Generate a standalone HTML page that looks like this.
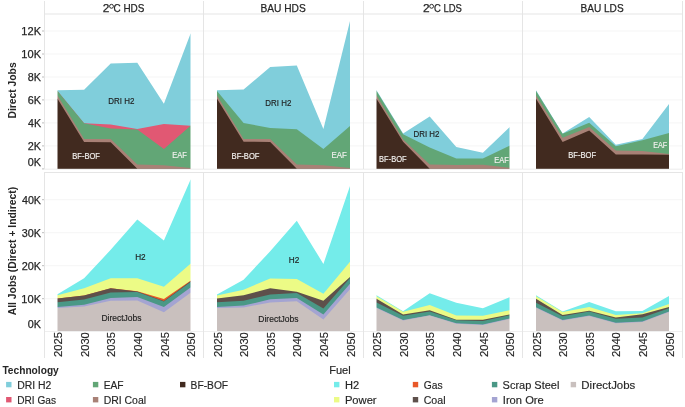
<!DOCTYPE html>
<html><head><meta charset="utf-8"><style>
html,body{margin:0;padding:0;background:#fff;}
body{width:685px;height:407px;overflow:hidden;font-family:"Liberation Sans",sans-serif;}
svg{display:block;will-change:transform;}
</style></head><body>
<svg width="685" height="407" viewBox="0 0 685 407">
<defs><mask id="c00" maskUnits="userSpaceOnUse" x="0" y="0" width="685" height="407"><rect x="57.5" y="15" width="133.00" height="153.80" fill="#fff"/></mask><mask id="c01" maskUnits="userSpaceOnUse" x="0" y="0" width="685" height="407"><rect x="57.5" y="173" width="133.00" height="158.00" fill="#fff"/></mask><mask id="c10" maskUnits="userSpaceOnUse" x="0" y="0" width="685" height="407"><rect x="217.0" y="15" width="133.00" height="153.80" fill="#fff"/></mask><mask id="c11" maskUnits="userSpaceOnUse" x="0" y="0" width="685" height="407"><rect x="217.0" y="173" width="133.00" height="158.00" fill="#fff"/></mask><mask id="c20" maskUnits="userSpaceOnUse" x="0" y="0" width="685" height="407"><rect x="376.5" y="15" width="133.00" height="153.80" fill="#fff"/></mask><mask id="c21" maskUnits="userSpaceOnUse" x="0" y="0" width="685" height="407"><rect x="376.5" y="173" width="133.00" height="158.00" fill="#fff"/></mask><mask id="c30" maskUnits="userSpaceOnUse" x="0" y="0" width="685" height="407"><rect x="536.0" y="15" width="133.00" height="153.80" fill="#fff"/></mask><mask id="c31" maskUnits="userSpaceOnUse" x="0" y="0" width="685" height="407"><rect x="536.0" y="173" width="133.00" height="158.00" fill="#fff"/></mask></defs>
<line x1="44.5" y1="31.0" x2="682" y2="31.0" stroke="#f5f5f5" stroke-width="1"/>
<line x1="44.5" y1="54.0" x2="682" y2="54.0" stroke="#f5f5f5" stroke-width="1"/>
<line x1="44.5" y1="77.0" x2="682" y2="77.0" stroke="#f5f5f5" stroke-width="1"/>
<line x1="44.5" y1="99.9" x2="682" y2="99.9" stroke="#f5f5f5" stroke-width="1"/>
<line x1="44.5" y1="122.9" x2="682" y2="122.9" stroke="#f5f5f5" stroke-width="1"/>
<line x1="44.5" y1="145.9" x2="682" y2="145.9" stroke="#f5f5f5" stroke-width="1"/>
<line x1="44.5" y1="199.7" x2="682" y2="199.7" stroke="#f5f5f5" stroke-width="1"/>
<line x1="44.5" y1="232.7" x2="682" y2="232.7" stroke="#f5f5f5" stroke-width="1"/>
<line x1="44.5" y1="265.7" x2="682" y2="265.7" stroke="#f5f5f5" stroke-width="1"/>
<line x1="44.5" y1="298.7" x2="682" y2="298.7" stroke="#f5f5f5" stroke-width="1"/>
<line x1="44" y1="169.2" x2="683" y2="169.2" stroke="#ececec" stroke-width="1"/>
<g mask="url(#c00)">
<polygon points="55.50,90.20 57.50,90.20 84.10,89.80 110.70,63.60 137.30,62.80 163.90,103.80 190.50,33.80 192.50,33.80 192.50,170.8 55.50,170.8" fill="#80CEDB"/>
<polygon points="55.50,91.00 57.50,91.00 84.10,123.30 110.70,124.50 137.30,128.90 163.90,124.10 190.50,125.80 192.50,125.80 192.50,170.8 55.50,170.8" fill="#E15873"/>
<polygon points="55.50,91.00 57.50,91.00 84.10,123.30 110.70,128.40 137.30,129.40 163.90,149.00 190.50,125.80 192.50,125.80 192.50,170.8 55.50,170.8" fill="#62A676"/>
<polygon points="55.50,95.50 57.50,95.50 84.10,138.90 110.70,139.10 137.30,164.50 163.90,165.30 190.50,168.00 192.50,168.00 192.50,170.8 55.50,170.8" fill="#A88176"/>
<polygon points="55.50,98.80 57.50,98.80 84.10,141.90 110.70,142.20 137.30,168.80 163.90,168.80 190.50,168.80 192.50,168.80 192.50,170.8 55.50,170.8" fill="#412A1F"/>
</g>
<g mask="url(#c01)">
<polygon points="55.50,294.20 57.50,294.20 84.10,278.30 110.70,249.80 137.30,219.50 163.90,240.60 190.50,179.70 192.50,179.70 192.50,333.0 55.50,333.0" fill="#74ECEA"/>
<polygon points="55.50,295.30 57.50,295.30 84.10,288.30 110.70,278.30 137.30,278.30 163.90,286.80 190.50,263.80 192.50,263.80 192.50,333.0 55.50,333.0" fill="#ECFB86"/>
<polygon points="55.50,298.60 57.50,298.60 84.10,295.40 110.70,288.20 137.30,291.30 163.90,299.00 190.50,280.70 192.50,280.70 192.50,333.0 55.50,333.0" fill="#E85828"/>
<polygon points="55.50,298.60 57.50,298.60 84.10,295.40 110.70,288.20 137.30,291.50 163.90,301.00 190.50,281.20 192.50,281.20 192.50,333.0 55.50,333.0" fill="#5E504B"/>
<polygon points="55.50,302.30 57.50,302.30 84.10,299.60 110.70,292.50 137.30,292.00 163.90,301.50 190.50,282.00 192.50,282.00 192.50,333.0 55.50,333.0" fill="#4A9886"/>
<polygon points="55.50,307.00 57.50,307.00 84.10,304.80 110.70,298.10 137.30,296.90 163.90,307.10 190.50,287.40 192.50,287.40 192.50,333.0 55.50,333.0" fill="#A4A4D2"/>
<polygon points="55.50,307.90 57.50,307.90 84.10,306.50 110.70,300.80 137.30,300.60 163.90,312.30 190.50,292.80 192.50,292.80 192.50,333.0 55.50,333.0" fill="#C9C0BE"/>
</g>
<g mask="url(#c10)">
<polygon points="215.00,90.20 217.00,90.20 243.60,89.60 270.20,67.00 296.80,65.50 323.40,128.90 350.00,20.90 352.00,20.90 352.00,170.8 215.00,170.8" fill="#80CEDB"/>
<polygon points="215.00,91.00 217.00,91.00 243.60,123.00 270.20,128.00 296.80,129.30 323.40,148.90 350.00,126.00 352.00,126.00 352.00,170.8 215.00,170.8" fill="#62A676"/>
<polygon points="215.00,95.50 217.00,95.50 243.60,139.00 270.20,139.00 296.80,164.60 323.40,165.30 350.00,168.00 352.00,168.00 352.00,170.8 215.00,170.8" fill="#A88176"/>
<polygon points="215.00,98.80 217.00,98.80 243.60,141.70 270.20,142.00 296.80,168.80 323.40,168.80 350.00,168.80 352.00,168.80 352.00,170.8 215.00,170.8" fill="#412A1F"/>
</g>
<g mask="url(#c11)">
<polygon points="215.00,294.60 217.00,294.60 243.60,279.70 270.20,251.30 296.80,220.80 323.40,263.90 350.00,186.10 352.00,186.10 352.00,333.0 215.00,333.0" fill="#74ECEA"/>
<polygon points="215.00,295.60 217.00,295.60 243.60,289.70 270.20,278.40 296.80,279.00 323.40,293.80 350.00,261.70 352.00,261.70 352.00,333.0 215.00,333.0" fill="#ECFB86"/>
<polygon points="215.00,298.50 217.00,298.50 243.60,295.20 270.20,288.30 296.80,291.70 323.40,300.70 350.00,277.00 352.00,277.00 352.00,333.0 215.00,333.0" fill="#5E504B"/>
<polygon points="215.00,302.20 217.00,302.20 243.60,300.70 270.20,294.40 296.80,292.90 323.40,308.60 350.00,278.00 352.00,278.00 352.00,333.0 215.00,333.0" fill="#4A9886"/>
<polygon points="215.00,306.90 217.00,306.90 243.60,305.60 270.20,299.30 296.80,298.10 323.40,314.50 350.00,283.80 352.00,283.80 352.00,333.0 215.00,333.0" fill="#A4A4D2"/>
<polygon points="215.00,308.10 217.00,308.10 243.60,307.50 270.20,302.40 296.80,301.20 323.40,319.40 350.00,289.30 352.00,289.30 352.00,333.0 215.00,333.0" fill="#C9C0BE"/>
</g>
<g mask="url(#c20)">
<polygon points="374.50,90.20 376.50,90.20 403.10,133.60 429.70,116.60 456.30,147.10 482.90,152.70 509.50,127.20 511.50,127.20 511.50,170.8 374.50,170.8" fill="#80CEDB"/>
<polygon points="374.50,91.00 376.50,91.00 403.10,134.30 429.70,147.60 456.30,158.60 482.90,158.60 509.50,145.80 511.50,145.80 511.50,170.8 374.50,170.8" fill="#62A676"/>
<polygon points="374.50,95.50 376.50,95.50 403.10,139.50 429.70,164.60 456.30,165.00 482.90,164.80 509.50,167.80 511.50,167.80 511.50,170.8 374.50,170.8" fill="#A88176"/>
<polygon points="374.50,98.80 376.50,98.80 403.10,141.70 429.70,168.80 456.30,168.80 482.90,168.80 509.50,168.80 511.50,168.80 511.50,170.8 374.50,170.8" fill="#412A1F"/>
</g>
<g mask="url(#c21)">
<polygon points="374.50,295.20 376.50,295.20 403.10,311.20 429.70,293.20 456.30,302.70 482.90,308.30 509.50,297.30 511.50,297.30 511.50,333.0 374.50,333.0" fill="#74ECEA"/>
<polygon points="374.50,296.20 376.50,296.20 403.10,311.70 429.70,305.00 456.30,315.60 482.90,315.80 509.50,310.30 511.50,310.30 511.50,333.0 374.50,333.0" fill="#ECFB86"/>
<polygon points="374.50,298.80 376.50,298.80 403.10,314.50 429.70,310.20 456.30,319.80 482.90,319.80 509.50,314.60 511.50,314.60 511.50,333.0 374.50,333.0" fill="#5E504B"/>
<polygon points="374.50,302.60 376.50,302.60 403.10,315.80 429.70,311.40 456.30,320.30 482.90,320.90 509.50,315.30 511.50,315.30 511.50,333.0 374.50,333.0" fill="#4A9886"/>
<polygon points="374.50,307.50 376.50,307.50 403.10,320.10 429.70,315.20 456.30,323.30 482.90,324.50 509.50,318.40 511.50,318.40 511.50,333.0 374.50,333.0" fill="#A4A4D2"/>
<polygon points="374.50,308.10 376.50,308.10 403.10,320.50 429.70,315.60 456.30,323.70 482.90,325.00 509.50,318.90 511.50,318.90 511.50,333.0 374.50,333.0" fill="#C9C0BE"/>
</g>
<g mask="url(#c30)">
<polygon points="534.00,90.20 536.00,90.20 562.60,133.60 589.20,117.10 615.80,144.70 642.40,139.00 669.00,103.90 671.00,103.90 671.00,170.8 534.00,170.8" fill="#80CEDB"/>
<polygon points="534.00,91.00 536.00,91.00 562.60,133.80 589.20,122.80 615.80,146.20 642.40,140.30 669.00,132.90 671.00,132.90 671.00,170.8 534.00,170.8" fill="#62A676"/>
<polygon points="534.00,95.50 536.00,95.50 562.60,137.70 589.20,126.90 615.80,150.60 642.40,150.90 669.00,153.90 671.00,153.90 671.00,170.8 534.00,170.8" fill="#A88176"/>
<polygon points="534.00,98.80 536.00,98.80 562.60,141.90 589.20,130.40 615.80,154.60 642.40,154.60 669.00,154.80 671.00,154.80 671.00,170.8 534.00,170.8" fill="#412A1F"/>
</g>
<g mask="url(#c31)">
<polygon points="534.00,295.20 536.00,295.20 562.60,311.50 589.20,302.10 615.80,311.30 642.40,311.00 669.00,296.10 671.00,296.10 671.00,333.0 534.00,333.0" fill="#74ECEA"/>
<polygon points="534.00,296.30 536.00,296.30 562.60,312.10 589.20,307.10 615.80,314.90 642.40,313.20 669.00,304.00 671.00,304.00 671.00,333.0 534.00,333.0" fill="#ECFB86"/>
<polygon points="534.00,298.80 536.00,298.80 562.60,314.90 589.20,310.70 615.80,317.60 642.40,314.30 669.00,306.90 671.00,306.90 671.00,333.0 534.00,333.0" fill="#5E504B"/>
<polygon points="534.00,302.70 536.00,302.70 562.60,316.20 589.20,311.50 615.80,318.70 642.40,317.60 669.00,308.20 671.00,308.20 671.00,333.0 534.00,333.0" fill="#4A9886"/>
<polygon points="534.00,307.20 536.00,307.20 562.60,320.00 589.20,315.60 615.80,322.80 642.40,321.60 669.00,311.60 671.00,311.60 671.00,333.0 534.00,333.0" fill="#A4A4D2"/>
<polygon points="534.00,307.70 536.00,307.70 562.60,320.40 589.20,316.00 615.80,323.20 642.40,322.00 669.00,312.10 671.00,312.10 671.00,333.0 534.00,333.0" fill="#C9C0BE"/>
</g>
<line x1="44" y1="14" x2="683" y2="14" stroke="#e5e5e5" stroke-width="1"/>
<line x1="44" y1="172.5" x2="683" y2="172.5" stroke="#e5e5e5" stroke-width="1"/>
<line x1="44" y1="331.5" x2="683" y2="331.5" stroke="#efefef" stroke-width="1"/>
<line x1="44.5" y1="1" x2="44.5" y2="169" stroke="#e5e5e5" stroke-width="1"/>
<line x1="44.5" y1="172" x2="44.5" y2="358" stroke="#e5e5e5" stroke-width="1"/>
<line x1="203.5" y1="1" x2="203.5" y2="169" stroke="#e5e5e5" stroke-width="1"/>
<line x1="203.5" y1="172" x2="203.5" y2="358" stroke="#e5e5e5" stroke-width="1"/>
<line x1="363.5" y1="1" x2="363.5" y2="169" stroke="#e5e5e5" stroke-width="1"/>
<line x1="363.5" y1="172" x2="363.5" y2="358" stroke="#e5e5e5" stroke-width="1"/>
<line x1="522.5" y1="1" x2="522.5" y2="169" stroke="#e5e5e5" stroke-width="1"/>
<line x1="522.5" y1="172" x2="522.5" y2="358" stroke="#e5e5e5" stroke-width="1"/>
<line x1="682.5" y1="1" x2="682.5" y2="169" stroke="#e5e5e5" stroke-width="1"/>
<line x1="682.5" y1="172" x2="682.5" y2="358" stroke="#e5e5e5" stroke-width="1"/>
<line x1="42" y1="31.0" x2="44" y2="31.0" stroke="#bdbdbd" stroke-width="1"/>
<line x1="42" y1="54.0" x2="44" y2="54.0" stroke="#bdbdbd" stroke-width="1"/>
<line x1="42" y1="77.0" x2="44" y2="77.0" stroke="#bdbdbd" stroke-width="1"/>
<line x1="42" y1="99.9" x2="44" y2="99.9" stroke="#bdbdbd" stroke-width="1"/>
<line x1="42" y1="122.9" x2="44" y2="122.9" stroke="#bdbdbd" stroke-width="1"/>
<line x1="42" y1="145.9" x2="44" y2="145.9" stroke="#bdbdbd" stroke-width="1"/>
<line x1="42" y1="168.9" x2="44" y2="168.9" stroke="#bdbdbd" stroke-width="1"/>
<line x1="42" y1="199.7" x2="44" y2="199.7" stroke="#bdbdbd" stroke-width="1"/>
<line x1="42" y1="232.7" x2="44" y2="232.7" stroke="#bdbdbd" stroke-width="1"/>
<line x1="42" y1="265.7" x2="44" y2="265.7" stroke="#bdbdbd" stroke-width="1"/>
<line x1="42" y1="298.7" x2="44" y2="298.7" stroke="#bdbdbd" stroke-width="1"/>
<text x="21.35" y="34.90" font-size="11" fill="#262626" stroke="#262626" stroke-width="0.25" textLength="19.68" lengthAdjust="spacingAndGlyphs" font-family="Liberation Sans, sans-serif">12K</text>
<text x="21.35" y="57.90" font-size="11" fill="#262626" stroke="#262626" stroke-width="0.25" textLength="19.68" lengthAdjust="spacingAndGlyphs" font-family="Liberation Sans, sans-serif">10K</text>
<text x="27.81" y="80.90" font-size="11" fill="#262626" stroke="#262626" stroke-width="0.25" textLength="13.24" lengthAdjust="spacingAndGlyphs" font-family="Liberation Sans, sans-serif">8K</text>
<text x="27.76" y="103.80" font-size="11" fill="#262626" stroke="#262626" stroke-width="0.25" textLength="13.30" lengthAdjust="spacingAndGlyphs" font-family="Liberation Sans, sans-serif">6K</text>
<text x="28.06" y="126.80" font-size="11" fill="#262626" stroke="#262626" stroke-width="0.25" textLength="12.99" lengthAdjust="spacingAndGlyphs" font-family="Liberation Sans, sans-serif">4K</text>
<text x="27.76" y="149.80" font-size="11" fill="#262626" stroke="#262626" stroke-width="0.25" textLength="13.30" lengthAdjust="spacingAndGlyphs" font-family="Liberation Sans, sans-serif">2K</text>
<text x="27.86" y="165.90" font-size="11" fill="#262626" stroke="#262626" stroke-width="0.25" textLength="13.19" lengthAdjust="spacingAndGlyphs" font-family="Liberation Sans, sans-serif">0K</text>
<text x="21.96" y="203.60" font-size="11" fill="#262626" stroke="#262626" stroke-width="0.25" textLength="19.06" lengthAdjust="spacingAndGlyphs" font-family="Liberation Sans, sans-serif">40K</text>
<text x="21.81" y="236.60" font-size="11" fill="#262626" stroke="#262626" stroke-width="0.25" textLength="19.21" lengthAdjust="spacingAndGlyphs" font-family="Liberation Sans, sans-serif">30K</text>
<text x="21.66" y="269.60" font-size="11" fill="#262626" stroke="#262626" stroke-width="0.25" textLength="19.37" lengthAdjust="spacingAndGlyphs" font-family="Liberation Sans, sans-serif">20K</text>
<text x="21.35" y="302.60" font-size="11" fill="#262626" stroke="#262626" stroke-width="0.25" textLength="19.68" lengthAdjust="spacingAndGlyphs" font-family="Liberation Sans, sans-serif">10K</text>
<text x="27.86" y="328.00" font-size="11" fill="#262626" stroke="#262626" stroke-width="0.25" textLength="13.19" lengthAdjust="spacingAndGlyphs" font-family="Liberation Sans, sans-serif">0K</text>
<text x="260.47" y="11.80" font-size="11" fill="#262626" stroke="#262626" stroke-width="0.25" textLength="45.29" lengthAdjust="spacingAndGlyphs" font-family="Liberation Sans, sans-serif">BAU HDS</text>
<text x="580.47" y="11.80" font-size="11" fill="#262626" stroke="#262626" stroke-width="0.25" textLength="43.16" lengthAdjust="spacingAndGlyphs" font-family="Liberation Sans, sans-serif">BAU LDS</text>
<text x="102.71" y="11.80" font-size="11" fill="#262626" stroke="#262626" stroke-width="0.25" textLength="6.61" lengthAdjust="spacingAndGlyphs" font-family="Liberation Sans, sans-serif">2</text>
<circle cx="111.5" cy="6.3" r="1.95" fill="none" stroke="#262626" stroke-width="0.95"/>
<text x="113.50" y="11.80" font-size="11" fill="#262626" stroke="#262626" stroke-width="0.25" textLength="30.93" lengthAdjust="spacingAndGlyphs" font-family="Liberation Sans, sans-serif">C HDS</text>
<text x="422.91" y="11.80" font-size="11" fill="#262626" stroke="#262626" stroke-width="0.25" textLength="6.61" lengthAdjust="spacingAndGlyphs" font-family="Liberation Sans, sans-serif">2</text>
<circle cx="431.6" cy="6.3" r="1.95" fill="none" stroke="#262626" stroke-width="0.95"/>
<text x="433.93" y="11.80" font-size="11" fill="#262626" stroke="#262626" stroke-width="0.25" textLength="27.90" lengthAdjust="spacingAndGlyphs" font-family="Liberation Sans, sans-serif">C LDS</text>
<text transform="translate(16.10,118.47) rotate(-90)" font-size="10" font-weight="bold" fill="#262626" textLength="56.10" lengthAdjust="spacingAndGlyphs" font-family="Liberation Sans, sans-serif">Direct Jobs</text>
<text transform="translate(16.00,315.26) rotate(-90)" font-size="10" font-weight="bold" fill="#262626" textLength="128.37" lengthAdjust="spacingAndGlyphs" font-family="Liberation Sans, sans-serif">All Jobs (Direct + Indirect)</text>
<text transform="translate(62.10,357.06) rotate(-90)" font-size="11" fill="#262626" stroke="#262626" stroke-width="0.15" textLength="24.94" lengthAdjust="spacingAndGlyphs" font-family="Liberation Sans, sans-serif">2025</text>
<text transform="translate(88.70,357.06) rotate(-90)" font-size="11" fill="#262626" stroke="#262626" stroke-width="0.15" textLength="24.89" lengthAdjust="spacingAndGlyphs" font-family="Liberation Sans, sans-serif">2030</text>
<text transform="translate(115.30,357.06) rotate(-90)" font-size="11" fill="#262626" stroke="#262626" stroke-width="0.15" textLength="24.94" lengthAdjust="spacingAndGlyphs" font-family="Liberation Sans, sans-serif">2035</text>
<text transform="translate(141.90,357.06) rotate(-90)" font-size="11" fill="#262626" stroke="#262626" stroke-width="0.15" textLength="24.89" lengthAdjust="spacingAndGlyphs" font-family="Liberation Sans, sans-serif">2040</text>
<text transform="translate(168.50,357.06) rotate(-90)" font-size="11" fill="#262626" stroke="#262626" stroke-width="0.15" textLength="24.94" lengthAdjust="spacingAndGlyphs" font-family="Liberation Sans, sans-serif">2045</text>
<text transform="translate(195.10,357.06) rotate(-90)" font-size="11" fill="#262626" stroke="#262626" stroke-width="0.15" textLength="24.89" lengthAdjust="spacingAndGlyphs" font-family="Liberation Sans, sans-serif">2050</text>
<text transform="translate(221.60,357.06) rotate(-90)" font-size="11" fill="#262626" stroke="#262626" stroke-width="0.15" textLength="24.94" lengthAdjust="spacingAndGlyphs" font-family="Liberation Sans, sans-serif">2025</text>
<text transform="translate(248.20,357.06) rotate(-90)" font-size="11" fill="#262626" stroke="#262626" stroke-width="0.15" textLength="24.89" lengthAdjust="spacingAndGlyphs" font-family="Liberation Sans, sans-serif">2030</text>
<text transform="translate(274.80,357.06) rotate(-90)" font-size="11" fill="#262626" stroke="#262626" stroke-width="0.15" textLength="24.94" lengthAdjust="spacingAndGlyphs" font-family="Liberation Sans, sans-serif">2035</text>
<text transform="translate(301.40,357.06) rotate(-90)" font-size="11" fill="#262626" stroke="#262626" stroke-width="0.15" textLength="24.89" lengthAdjust="spacingAndGlyphs" font-family="Liberation Sans, sans-serif">2040</text>
<text transform="translate(328.00,357.06) rotate(-90)" font-size="11" fill="#262626" stroke="#262626" stroke-width="0.15" textLength="24.94" lengthAdjust="spacingAndGlyphs" font-family="Liberation Sans, sans-serif">2045</text>
<text transform="translate(354.60,357.06) rotate(-90)" font-size="11" fill="#262626" stroke="#262626" stroke-width="0.15" textLength="24.89" lengthAdjust="spacingAndGlyphs" font-family="Liberation Sans, sans-serif">2050</text>
<text transform="translate(381.10,357.06) rotate(-90)" font-size="11" fill="#262626" stroke="#262626" stroke-width="0.15" textLength="24.94" lengthAdjust="spacingAndGlyphs" font-family="Liberation Sans, sans-serif">2025</text>
<text transform="translate(407.70,357.06) rotate(-90)" font-size="11" fill="#262626" stroke="#262626" stroke-width="0.15" textLength="24.89" lengthAdjust="spacingAndGlyphs" font-family="Liberation Sans, sans-serif">2030</text>
<text transform="translate(434.30,357.06) rotate(-90)" font-size="11" fill="#262626" stroke="#262626" stroke-width="0.15" textLength="24.94" lengthAdjust="spacingAndGlyphs" font-family="Liberation Sans, sans-serif">2035</text>
<text transform="translate(460.90,357.06) rotate(-90)" font-size="11" fill="#262626" stroke="#262626" stroke-width="0.15" textLength="24.89" lengthAdjust="spacingAndGlyphs" font-family="Liberation Sans, sans-serif">2040</text>
<text transform="translate(487.50,357.06) rotate(-90)" font-size="11" fill="#262626" stroke="#262626" stroke-width="0.15" textLength="24.94" lengthAdjust="spacingAndGlyphs" font-family="Liberation Sans, sans-serif">2045</text>
<text transform="translate(514.10,357.06) rotate(-90)" font-size="11" fill="#262626" stroke="#262626" stroke-width="0.15" textLength="24.89" lengthAdjust="spacingAndGlyphs" font-family="Liberation Sans, sans-serif">2050</text>
<text transform="translate(540.60,357.06) rotate(-90)" font-size="11" fill="#262626" stroke="#262626" stroke-width="0.15" textLength="24.94" lengthAdjust="spacingAndGlyphs" font-family="Liberation Sans, sans-serif">2025</text>
<text transform="translate(567.20,357.06) rotate(-90)" font-size="11" fill="#262626" stroke="#262626" stroke-width="0.15" textLength="24.89" lengthAdjust="spacingAndGlyphs" font-family="Liberation Sans, sans-serif">2030</text>
<text transform="translate(593.80,357.06) rotate(-90)" font-size="11" fill="#262626" stroke="#262626" stroke-width="0.15" textLength="24.94" lengthAdjust="spacingAndGlyphs" font-family="Liberation Sans, sans-serif">2035</text>
<text transform="translate(620.40,357.06) rotate(-90)" font-size="11" fill="#262626" stroke="#262626" stroke-width="0.15" textLength="24.89" lengthAdjust="spacingAndGlyphs" font-family="Liberation Sans, sans-serif">2040</text>
<text transform="translate(647.00,357.06) rotate(-90)" font-size="11" fill="#262626" stroke="#262626" stroke-width="0.15" textLength="24.94" lengthAdjust="spacingAndGlyphs" font-family="Liberation Sans, sans-serif">2045</text>
<text transform="translate(673.60,357.06) rotate(-90)" font-size="11" fill="#262626" stroke="#262626" stroke-width="0.15" textLength="24.89" lengthAdjust="spacingAndGlyphs" font-family="Liberation Sans, sans-serif">2050</text>
<text x="108.27" y="103.70" font-size="8.2" fill="#1e1e1e" stroke="#1e1e1e" stroke-width="0.15" textLength="26.05" lengthAdjust="spacingAndGlyphs" font-family="Liberation Sans, sans-serif">DRI H2</text>
<text x="265.37" y="105.90" font-size="8.2" fill="#1e1e1e" stroke="#1e1e1e" stroke-width="0.15" textLength="25.94" lengthAdjust="spacingAndGlyphs" font-family="Liberation Sans, sans-serif">DRI H2</text>
<text x="413.58" y="136.80" font-size="8.2" fill="#1e1e1e" stroke="#1e1e1e" stroke-width="0.15" textLength="25.84" lengthAdjust="spacingAndGlyphs" font-family="Liberation Sans, sans-serif">DRI H2</text>
<text x="72.30" y="158.90" font-size="8.2" fill="#f3f1ef" stroke="#f3f1ef" stroke-width="0.15" textLength="27.69" lengthAdjust="spacingAndGlyphs" font-family="Liberation Sans, sans-serif">BF-BOF</text>
<text x="231.60" y="158.90" font-size="8.2" fill="#f3f1ef" stroke="#f3f1ef" stroke-width="0.15" textLength="27.90" lengthAdjust="spacingAndGlyphs" font-family="Liberation Sans, sans-serif">BF-BOF</text>
<text x="379.11" y="161.90" font-size="8.2" fill="#f3f1ef" stroke="#f3f1ef" stroke-width="0.15" textLength="27.48" lengthAdjust="spacingAndGlyphs" font-family="Liberation Sans, sans-serif">BF-BOF</text>
<text x="568.30" y="158.10" font-size="8.2" fill="#f3f1ef" stroke="#f3f1ef" stroke-width="0.15" textLength="27.90" lengthAdjust="spacingAndGlyphs" font-family="Liberation Sans, sans-serif">BF-BOF</text>
<text x="172.30" y="158.20" font-size="8.2" fill="#f3f1ef" stroke="#f3f1ef" stroke-width="0.15" textLength="14.67" lengthAdjust="spacingAndGlyphs" font-family="Liberation Sans, sans-serif">EAF</text>
<text x="331.58" y="157.80" font-size="8.2" fill="#f3f1ef" stroke="#f3f1ef" stroke-width="0.15" textLength="15.31" lengthAdjust="spacingAndGlyphs" font-family="Liberation Sans, sans-serif">EAF</text>
<text x="494.21" y="162.80" font-size="8.2" fill="#f3f1ef" stroke="#f3f1ef" stroke-width="0.15" textLength="14.57" lengthAdjust="spacingAndGlyphs" font-family="Liberation Sans, sans-serif">EAF</text>
<text x="653.23" y="148.00" font-size="8.2" fill="#f3f1ef" stroke="#f3f1ef" stroke-width="0.15" textLength="14.03" lengthAdjust="spacingAndGlyphs" font-family="Liberation Sans, sans-serif">EAF</text>
<text x="135.15" y="259.80" font-size="8.2" fill="#1e1e1e" stroke="#1e1e1e" stroke-width="0.15" textLength="10.48" lengthAdjust="spacingAndGlyphs" font-family="Liberation Sans, sans-serif">H2</text>
<text x="288.85" y="263.00" font-size="8.2" fill="#1e1e1e" stroke="#1e1e1e" stroke-width="0.15" textLength="10.48" lengthAdjust="spacingAndGlyphs" font-family="Liberation Sans, sans-serif">H2</text>
<text x="101.43" y="320.70" font-size="8.2" fill="#1e1e1e" stroke="#1e1e1e" stroke-width="0.15" textLength="40.06" lengthAdjust="spacingAndGlyphs" font-family="Liberation Sans, sans-serif">DirectJobs</text>
<text x="258.33" y="321.50" font-size="8.2" fill="#1e1e1e" stroke="#1e1e1e" stroke-width="0.15" textLength="40.17" lengthAdjust="spacingAndGlyphs" font-family="Liberation Sans, sans-serif">DirectJobs</text>
<text x="2.40" y="374.20" font-size="10" font-weight="bold" fill="#262626" textLength="56.38" lengthAdjust="spacingAndGlyphs" font-family="Liberation Sans, sans-serif">Technology</text>
<text x="329.22" y="374.30" font-size="10" fill="#262626" stroke="#262626" stroke-width="0.15" textLength="21.51" lengthAdjust="spacingAndGlyphs" font-family="Liberation Sans, sans-serif">Fuel</text>
<rect x="6.1" y="381.9" width="5.4" height="5.4" fill="#80CEDB"/>
<text x="17.17" y="388.70" font-size="10" fill="#262626" stroke="#262626" stroke-width="0.15" textLength="34.19" lengthAdjust="spacingAndGlyphs" font-family="Liberation Sans, sans-serif">DRI H2</text>
<rect x="92.9" y="381.9" width="5.4" height="5.4" fill="#62A676"/>
<text x="103.68" y="388.70" font-size="10" fill="#262626" stroke="#262626" stroke-width="0.15" textLength="19.93" lengthAdjust="spacingAndGlyphs" font-family="Liberation Sans, sans-serif">EAF</text>
<rect x="180" y="381.9" width="5.4" height="5.4" fill="#412A1F"/>
<text x="190.58" y="388.70" font-size="10" fill="#262626" stroke="#262626" stroke-width="0.15" textLength="37.55" lengthAdjust="spacingAndGlyphs" font-family="Liberation Sans, sans-serif">BF-BOF</text>
<rect x="6.1" y="397.0" width="5.4" height="5.4" fill="#E15873"/>
<text x="17.19" y="403.60" font-size="10" fill="#262626" stroke="#262626" stroke-width="0.15" textLength="38.75" lengthAdjust="spacingAndGlyphs" font-family="Liberation Sans, sans-serif">DRI Gas</text>
<rect x="92.9" y="397.0" width="5.4" height="5.4" fill="#A88176"/>
<text x="103.66" y="403.60" font-size="10" fill="#262626" stroke="#262626" stroke-width="0.15" textLength="42.43" lengthAdjust="spacingAndGlyphs" font-family="Liberation Sans, sans-serif">DRI Coal</text>
<rect x="334" y="381.9" width="5.4" height="5.4" fill="#74ECEA"/>
<text x="344.91" y="388.80" font-size="10" fill="#262626" stroke="#262626" stroke-width="0.15" textLength="14.18" lengthAdjust="spacingAndGlyphs" font-family="Liberation Sans, sans-serif">H2</text>
<rect x="412.8" y="381.9" width="5.4" height="5.4" fill="#E85828"/>
<text x="423.69" y="388.80" font-size="10" fill="#262626" stroke="#262626" stroke-width="0.15" textLength="18.86" lengthAdjust="spacingAndGlyphs" font-family="Liberation Sans, sans-serif">Gas</text>
<rect x="491.9" y="381.9" width="5.4" height="5.4" fill="#4A9886"/>
<text x="502.61" y="388.80" font-size="10" fill="#262626" stroke="#262626" stroke-width="0.15" textLength="56.76" lengthAdjust="spacingAndGlyphs" font-family="Liberation Sans, sans-serif">Scrap Steel</text>
<rect x="570.7" y="381.9" width="5.4" height="5.4" fill="#C9C0BE"/>
<text x="581.39" y="388.80" font-size="10" fill="#262626" stroke="#262626" stroke-width="0.15" textLength="53.90" lengthAdjust="spacingAndGlyphs" font-family="Liberation Sans, sans-serif">DirectJobs</text>
<rect x="334" y="397.0" width="5.4" height="5.4" fill="#ECFB86"/>
<text x="344.90" y="403.70" font-size="10" fill="#262626" stroke="#262626" stroke-width="0.15" textLength="31.71" lengthAdjust="spacingAndGlyphs" font-family="Liberation Sans, sans-serif">Power</text>
<rect x="412.8" y="397.0" width="5.4" height="5.4" fill="#5E504B"/>
<text x="423.67" y="403.70" font-size="10" fill="#262626" stroke="#262626" stroke-width="0.15" textLength="21.84" lengthAdjust="spacingAndGlyphs" font-family="Liberation Sans, sans-serif">Coal</text>
<rect x="491.9" y="397.0" width="5.4" height="5.4" fill="#A4A4D2"/>
<text x="502.80" y="403.70" font-size="10" fill="#262626" stroke="#262626" stroke-width="0.15" textLength="40.94" lengthAdjust="spacingAndGlyphs" font-family="Liberation Sans, sans-serif">Iron Ore</text>
</svg>
</body></html>
